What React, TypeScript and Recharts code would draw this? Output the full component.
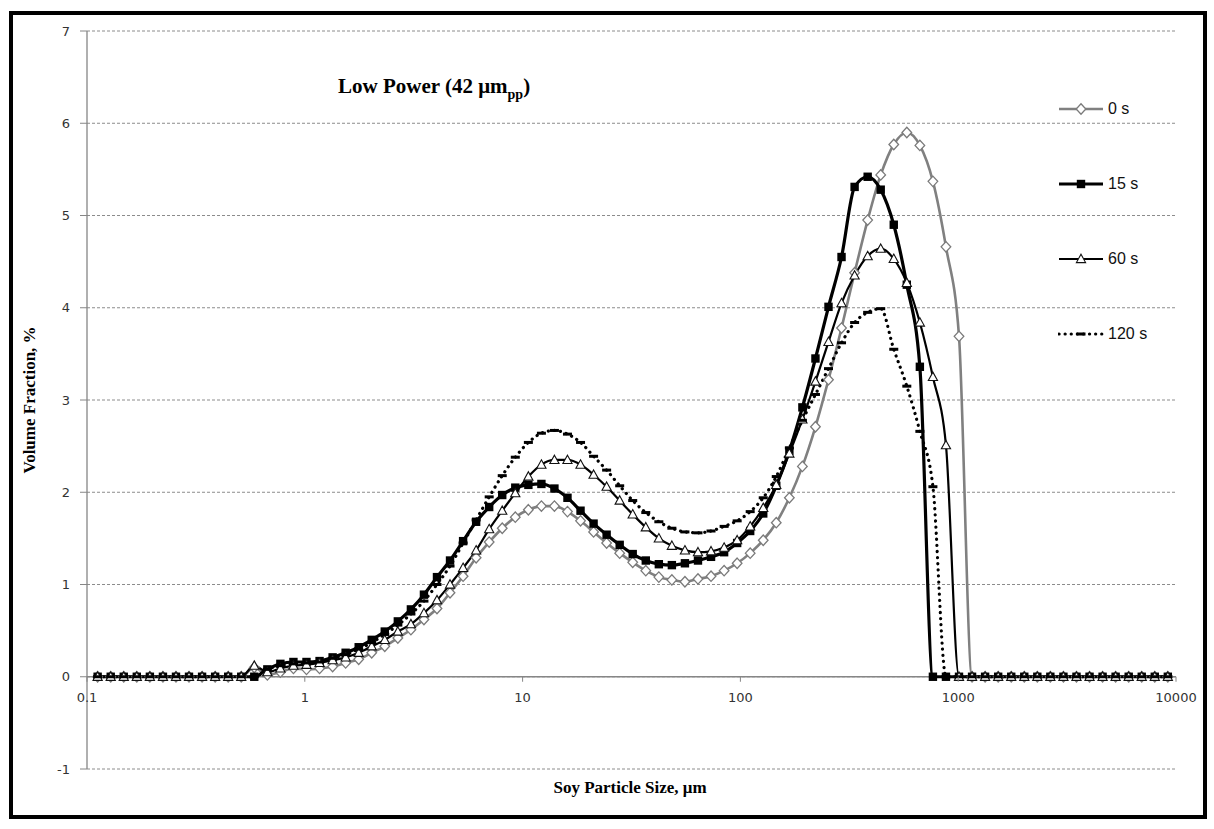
import React from 'react';
import { LineChart, Line, XAxis, YAxis, CartesianGrid, ReferenceLine, Legend } from 'recharts';

// particle size bins (µm), log spaced
const sizes = [
  0.1119, 0.1285, 0.1475, 0.1693, 0.1944, 0.2232, 0.2562, 0.294, 0.3376, 0.3876,
  0.4449, 0.5107, 0.5861, 0.673, 0.7725, 0.8868, 1.018, 1.169, 1.342, 1.54,
  1.768, 2.029, 2.329, 2.674, 3.07, 3.524, 4.045, 4.643, 5.331, 6.119,
  7.024, 8.063, 9.256, 10.63, 12.2, 14.0, 16.07, 18.45, 21.18, 24.31,
  27.91, 32.03, 36.78, 42.22, 48.46, 55.63, 63.86, 73.31, 84.18, 96.63,
  110.9, 127.3, 146.1, 167.8, 192.6, 221.1, 253.8, 291.3, 334.5, 384.0,
  440.8, 506.0, 580.8, 666.8, 765.4, 878.6, 1008.6, 1157.8, 1329, 1526,
  1752, 2011, 2308, 2649, 3042, 3492, 4009, 4602, 5282, 6065,
  6961, 7991, 9172,
];

const vol0s = [
  0, 0, 0, 0, 0, 0, 0, 0, 0, 0,
  0, 0, 0.10, 0.02, 0.05, 0.09, 0.08, 0.09, 0.11, 0.15,
  0.19, 0.26, 0.33, 0.42, 0.51, 0.62, 0.74, 0.91, 1.09, 1.29,
  1.46, 1.61, 1.73, 1.81, 1.85, 1.85, 1.79, 1.69, 1.57, 1.45,
  1.34, 1.24, 1.15, 1.08, 1.05, 1.03, 1.06, 1.09, 1.15, 1.23,
  1.34, 1.48, 1.67, 1.94, 2.28, 2.71, 3.22, 3.78, 4.38, 4.95,
  5.44, 5.77, 5.90, 5.76, 5.37, 4.66, 3.69, 0, 0, 0,
  0, 0, 0, 0, 0, 0, 0, 0, 0, 0,
  0, 0, 0,
];

const vol15s = [
  0, 0, 0, 0, 0, 0, 0, 0, 0, 0,
  0, 0, 0, 0.08, 0.14, 0.16, 0.16, 0.17, 0.21, 0.26,
  0.32, 0.40, 0.49, 0.60, 0.73, 0.89, 1.08, 1.26, 1.47, 1.68,
  1.84, 1.97, 2.05, 2.08, 2.09, 2.04, 1.94, 1.80, 1.66, 1.54,
  1.43, 1.33, 1.26, 1.22, 1.21, 1.23, 1.26, 1.30, 1.35, 1.45,
  1.58, 1.77, 2.07, 2.45, 2.92, 3.45, 4.01, 4.55, 5.31, 5.42,
  5.28, 4.90, 4.25, 3.36, 0, 0, 0, 0, 0, 0,
  0, 0, 0, 0, 0, 0, 0, 0, 0, 0,
  0, 0, 0,
];

const vol60s = [
  0, 0, 0, 0, 0, 0, 0, 0, 0, 0,
  0, 0, 0.12, 0.05, 0.09, 0.12, 0.13, 0.15, 0.18, 0.21,
  0.26, 0.33, 0.40, 0.49, 0.57, 0.69, 0.83, 1.00, 1.18, 1.37,
  1.60, 1.80, 1.99, 2.17, 2.30, 2.35, 2.35, 2.30, 2.19, 2.06,
  1.91, 1.76, 1.62, 1.50, 1.42, 1.37, 1.35, 1.36, 1.40, 1.48,
  1.63, 1.83, 2.08, 2.42, 2.79, 3.20, 3.63, 4.05, 4.35, 4.56,
  4.64, 4.53, 4.27, 3.84, 3.25, 2.51, 0, 0, 0, 0,
  0, 0, 0, 0, 0, 0, 0, 0, 0, 0,
  0, 0, 0,
];

const vol120s = [
  0, 0, 0, 0, 0, 0, 0, 0, 0, 0,
  0, 0, 0, 0.08, 0.12, 0.14, 0.15, 0.16, 0.20, 0.24,
  0.30, 0.37, 0.46, 0.56, 0.68, 0.82, 1.00, 1.20, 1.45, 1.70,
  1.95, 2.18, 2.38, 2.54, 2.64, 2.67, 2.63, 2.54, 2.39, 2.24,
  2.07, 1.91, 1.78, 1.68, 1.61, 1.57, 1.56, 1.58, 1.63, 1.69,
  1.79, 1.94, 2.17, 2.48, 2.78, 3.06, 3.34, 3.62, 3.84, 3.95,
  3.99, 3.55, 3.15, 2.66, 2.06, 0, 0, 0, 0, 0,
  0, 0, 0, 0, 0, 0, 0, 0, 0, 0,
  0, 0, 0,
];

const seriesNames = ['0 s', '15 s', '60 s', '120 s'];
const xTicks = [0.1, 1, 10, 100, 1000, 10000];
const yTicks = [-1, 0, 1, 2, 3, 4, 5, 6, 7];

const rows = sizes.map((size, i) => ({
  size,
  s0: vol0s[i],
  s15: vol15s[i],
  s60: vol60s[i],
  s120: vol120s[i],
}));

const W = 1214;
const H = 829;
const PLOT_TOP = 31;
const PLOT_BOTTOM = 769;
const Y_MIN = -1;
const Y_MAX = 7;
const ZERO_FROM_BOTTOM = ((PLOT_BOTTOM - PLOT_TOP) * (0 - Y_MIN)) / (Y_MAX - Y_MIN);

const AXIS_GRAY = '#868686';
const TICK_FONT = '"DejaVu Sans", sans-serif';
const SERIF = '"Liberation Serif", "Times New Roman", serif';

type MarkerKind = 'diamond' | 'square' | 'triangle' | 'dash';

function marker(kind: MarkerKind, cx: number, cy: number, key: string) {
  if (kind === 'diamond') {
    return (
      <polygon key={key} points={`${cx},${cy - 5.2} ${cx + 4.8},${cy} ${cx},${cy + 5.2} ${cx - 4.8},${cy}`}
        fill="#fff" stroke="#7a7a7a" strokeWidth={1.3} />
    );
  }
  if (kind === 'square') {
    return <rect key={key} x={cx - 4.2} y={cy - 4.2} width={8.4} height={8.4} fill="#000" />;
  }
  if (kind === 'triangle') {
    return (
      <polygon key={key} points={`${cx},${cy - 4.8} ${cx + 4.6},${cy + 3.6} ${cx - 4.6},${cy + 3.6}`}
        fill="#fff" stroke="#111" strokeWidth={1.1} />
    );
  }
  return <rect key={key} x={cx - 4.5} y={cy - 1.5} width={9} height={3} fill="#000" />;
}

const dotOf = (kind: MarkerKind, tag: string) => (p: any) => {
  const key = `${tag}-${p.index}`;
  if (p.cx == null || p.cy == null) return <g key={key} />;
  return marker(kind, p.cx, p.cy, key);
};

const seriesStyle = [
  { key: 's0', stroke: '#808080', width: 2.6, dash: undefined as string | undefined, kind: 'diamond' as MarkerKind },
  { key: 's15', stroke: '#000', width: 3.2, dash: undefined, kind: 'square' as MarkerKind },
  { key: 's60', stroke: '#000', width: 2.2, dash: undefined, kind: 'triangle' as MarkerKind },
  { key: 's120', stroke: '#000', width: 3.2, dash: '0.1 6', kind: 'dash' as MarkerKind },
];

const XTick = (props: any) => {
  const { x, y, payload } = props;
  const y0 = y - ZERO_FROM_BOTTOM;
  return (
    <g>
      <line x1={x} x2={x} y1={y0} y2={y0 + 5} stroke={AXIS_GRAY} />
      <text x={x} y={y0 + 25} textAnchor="middle" fill="#333" fontSize={13} fontFamily={TICK_FONT}>
        {String(payload.value)}
      </text>
    </g>
  );
};

const LegendBox = () => (
  <div style={{ fontFamily: '"Liberation Sans", Arial, sans-serif', fontSize: 16, color: '#111' }}>
    {seriesStyle.map((s, i) => (
      <div key={s.key} style={{ display: 'flex', alignItems: 'center', height: 18, marginBottom: 57 }}>
        <svg width={46} height={18} style={{ display: 'block' }}>
          <line x1={1} x2={45} y1={9} y2={9} stroke={s.stroke} strokeWidth={s.width}
            strokeDasharray={s.dash} strokeLinecap={s.dash ? 'round' : 'butt'} />
          {marker(s.kind, 23, 9, `lg-${i}`)}
        </svg>
        <span style={{ marginLeft: 4, lineHeight: '18px' }}>{seriesNames[i]}</span>
      </div>
    ))}
  </div>
);

export default function App() {
  return (
    <div style={{ position: 'absolute', left: 0, top: 0, width: W, height: H, background: '#fff' }}>
      <div style={{ position: 'absolute', left: 9, top: 11, width: 1198, height: 808, border: '4px solid #000', boxSizing: 'border-box' }} />
      <div style={{ position: 'absolute', left: 0, top: 0 }}>
        <LineChart width={W} height={H} data={rows} margin={{ top: PLOT_TOP, right: 38, bottom: 30, left: 47 }}>
          <CartesianGrid horizontal vertical={false} stroke="#8c8c8c" strokeDasharray="3 2" />
          <XAxis dataKey="size" type="number" scale="log" domain={[0.1, 10000]} ticks={xTicks}
            allowDataOverflow height={30} axisLine={false} tickLine={false} tickSize={0} tickMargin={0}
            tick={<XTick />} interval={0} />
          <YAxis type="number" domain={[Y_MIN, Y_MAX]} ticks={yTicks} width={40} interval={0}
            axisLine={{ stroke: AXIS_GRAY, strokeWidth: 1.3 }} tickLine={{ stroke: AXIS_GRAY }} tickSize={7} tickMargin={10}
            tick={{ fill: '#333', fontSize: 13, fontFamily: TICK_FONT }} />
          <ReferenceLine y={0} stroke={AXIS_GRAY} strokeWidth={1.5} />
          {seriesStyle.map((s, i) => (
            <Line key={s.key} dataKey={s.key} name={seriesNames[i]} type="monotone"
              stroke={s.stroke} strokeWidth={s.width} strokeDasharray={s.dash}
              strokeLinecap={s.dash ? 'round' : 'butt'}
              dot={dotOf(s.kind, s.key)} activeDot={false} isAnimationActive={false} />
          ))}
          <Legend layout="horizontal" align="center" verticalAlign="middle" content={<LegendBox />}
            wrapperStyle={{ left: 1058, top: 100, width: 120, height: 300 }} />
        </LineChart>
      </div>
      <svg width={W} height={H} style={{ position: 'absolute', left: 0, top: 0, pointerEvents: 'none' }}>
        <text x={338} y={93} fontFamily={SERIF} fontWeight="bold" fontSize={21} fill="#000">
          Low Power (42 μm<tspan dy={6} fontSize={14}>pp</tspan><tspan dy={-6}>)</tspan>
        </text>
        <text x={630} y={793} textAnchor="middle" fontFamily={SERIF} fontWeight="bold" fontSize={17} fill="#000">
          Soy Particle Size, μm
        </text>
        <text transform="translate(35,400) rotate(-90)" textAnchor="middle" fontFamily={SERIF} fontWeight="bold" fontSize={17} fill="#000">
          Volume Fraction, %
        </text>
      </svg>
    </div>
  );
}
